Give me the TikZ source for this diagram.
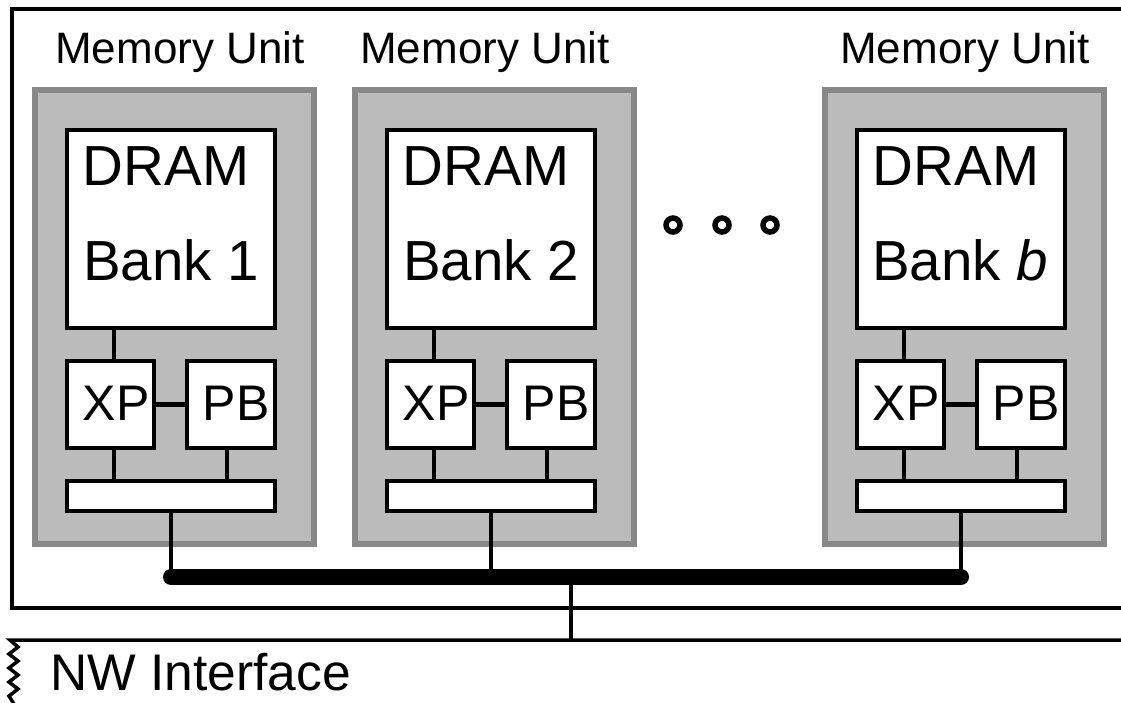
\documentclass[tikz,border=0pt]{standalone}
\usepackage{fontspec}
\setmainfont{Liberation Sans}
\definecolor{unitfill}{HTML}{BBBBBB}
\definecolor{unitborder}{HTML}{888888}
\tikzset{
  unitbox/.style={draw=unitborder, fill=unitfill, line width=6pt, minimum width=279pt, minimum height=454pt, inner sep=0pt},
  blk/.style={draw=black, fill=white, line width=4.5pt, inner sep=0pt},
  wire/.style={line width=4.5pt},
  utitle/.style={anchor=base, inner sep=0pt, font=\fontsize{44}{50}\selectfont},
  big/.style={anchor=base, inner sep=0pt, font=\fontsize{56.5}{60}\selectfont},
  mid/.style={anchor=base, inner sep=0pt, font=\fontsize{50}{56}\selectfont},
  dot/.style={circle, draw=black, line width=5.5pt, minimum size=14pt, inner sep=0pt},
}
\begin{document}
\begin{tikzpicture}[x=1pt, y=-1pt]
\useasboundingbox (0,0) rectangle (1121,702);
% outer frame
\draw[line width=4.5pt] (1130,9) -- (12,9) -- (12,608) -- (1130,608);
% NW interface line and zigzag
\draw[line width=3.5pt, line join=miter] (1130,640) -- (10,640) -- (18,647) -- (9,654) -- (18,661) -- (9,668) -- (18,675) -- (9,682) -- (18,689) -- (9,696) -- (14,704);
\node[anchor=base west, inner sep=0pt, font=\fontsize{51.5}{56}\selectfont] (nw) at (50,690) {NW Interface};

% bus
\coordinate (busL) at (171,577);
\coordinate (busR) at (961,577);
\coordinate (busM) at (571,577);
\coordinate (nwj) at (571,640);
\draw[line width=4.5pt] (busM) -- (nwj);

% units
\foreach \dx/\tx/\lbl/\id/\bx in {0/180/1/a/171, 320/485/2/b/171, 790/965/{\textit{b}}/c/170} {
  \begin{scope}[xshift=\dx pt]
    \node[unitbox] (gray\id) at (174.5,317) {};
    \node[blk, minimum width=208pt, minimum height=198pt] (dram\id) at (171,229) {};
    \node[blk, minimum width=87pt, minimum height=87pt] (xp\id) at (110.5,404.5) {};
    \node[blk, minimum width=88pt, minimum height=87pt] (pb\id) at (231,404.5) {};
    \node[blk, minimum width=208pt, minimum height=30pt] (bar\id) at (171,496) {};
    \coordinate (dj\id) at (114,330);
    \coordinate (xj\id) at (114,361);
    \coordinate (xb\id) at (114,450);
    \coordinate (bx\id) at (114,481);
    \coordinate (pj\id) at (227,450);
    \coordinate (bp\id) at (227,481);
    \coordinate (bb\id) at (171,511);
    \coordinate (bs\id) at (171,577);
    \draw[wire] (dj\id) -- (xj\id);
    \draw[wire] (xb\id) -- (bx\id);
    \draw[wire] (pj\id) -- (bp\id);
    \draw[wire] (xp\id.east) -- (pb\id.west);
    \draw[wire] (bb\id) -- (bs\id);
    \node[utitle] (title\id) at (\tx - \dx,63) {Memory Unit};
    \node[big] (dt\id) at (166,185) {DRAM};
    \node[big] (bt\id) at (\bx,280) {Bank \lbl};
    \node[mid] (xt\id) at (116,420) {XP};
    \node[mid] (pt\id) at (236,420) {PB};
  \end{scope}
}
% bus drawn over gray edges
\draw[line width=16pt, line cap=round] (busL) -- (busR);

% dots
\node[dot] (d1) at (673,225) {};
\node[dot] (d2) at (722,225) {};
\node[dot] (d3) at (770,225) {};
\end{tikzpicture}
\end{document}
